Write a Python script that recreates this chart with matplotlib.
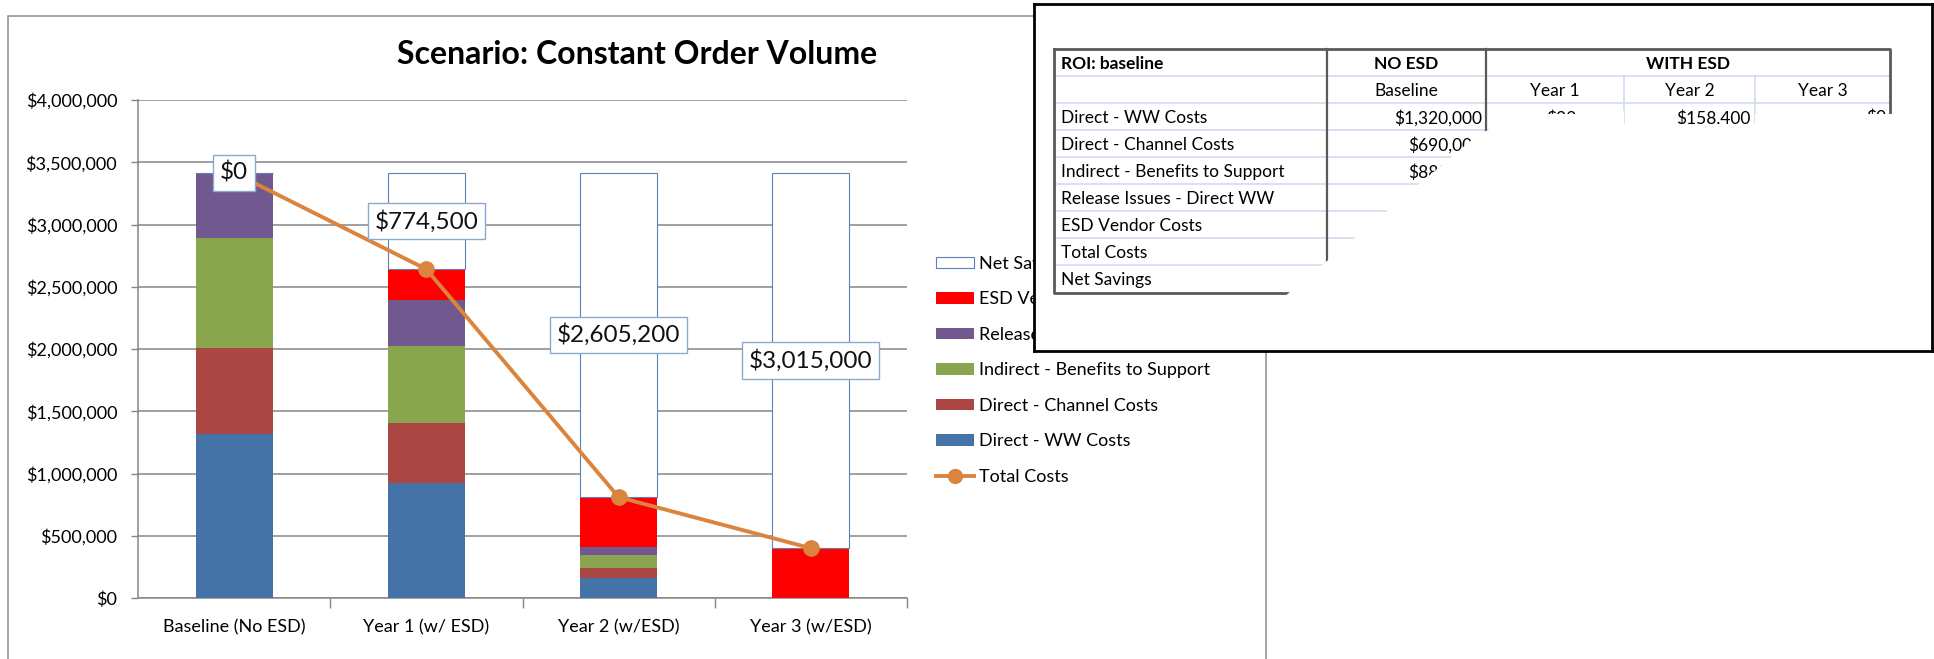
import numpy as np
import matplotlib
matplotlib.use('Agg')
import matplotlib.pyplot as plt
from matplotlib.patches import Rectangle, Patch, Polygon
from matplotlib.lines import Line2D
from matplotlib.ticker import FuncFormatter, MultipleLocator, FixedLocator

plt.rcParams['font.family'] = ['Lato', 'DejaVu Sans']

# ---- data ----
categories = ['Baseline (No ESD)', 'Year 1 (w/ ESD)', 'Year 2 (w/ESD)', 'Year 3 (w/ESD)']
ww_costs = [1320000, 924000, 158400, 0]
channel_costs = [690000, 483000, 82800, 0]
indirect_support = [880000, 616000, 105600, 0]
release_issues = [525000, 367500, 63000, 0]
esd_vendor = [0, 250000, 400000, 400000]
total_costs = [3415000, 2640500, 809800, 400000]
net_savings = [0, 774500, 2605200, 3015000]

series_names = ['Direct - WW Costs', 'Direct - Channel Costs', 'Indirect - Benefits to Support',
                'Release Issues - Direct WW', 'ESD Vendor Costs']
series_values = [ww_costs, channel_costs, indirect_support, release_issues, esd_vendor]
series_colors = ['#4572A7', '#AA4643', '#89A54E', '#71588F', '#FF0000']

table_title = 'ROI: baseline'
table_groups = ['NO ESD', 'WITH ESD']
table_cols = ['Baseline', 'Year 1', 'Year 2', 'Year 3']
table_rows = series_names + ['Total Costs', 'Net Savings']
table_values = series_values + [total_costs, net_savings]

W, H = 1934, 659
def fx(x):
    return x / W
def fy(y):
    return 1 - y / H

fig = plt.figure(figsize=(W / 100, H / 100), dpi=100)

# chart frame
fig.add_artist(Rectangle((fx(8), fy(700)), fx(1266) - fx(8), fy(16) - fy(700),
                         transform=fig.transFigure, fill=False, ec='#8c8c8c', lw=1.1))

ax = fig.add_axes([fx(138), fy(598), (907 - 138) / W, (598 - 100) / H])
x = np.arange(len(categories))
bottom = np.zeros(len(categories))
bar_w = 0.4
for name, vals, col in zip(series_names, series_values, series_colors):
    ax.bar(x, vals, bar_w, bottom=bottom, color=col, label=name, zorder=3)
    bottom += np.array(vals)
ax.bar(x, net_savings, bar_w, bottom=bottom, color='white', ec='#5b82b8', lw=0.8, zorder=3)

ax.plot(x, total_costs, color='#DB843D', lw=2.8, marker='o', ms=11, zorder=5)

for i, ns in enumerate(net_savings):
    ax.text(x[i], bottom[i] + ns / 2, '${:,.0f}'.format(ns), ha='center', va='center',
            fontsize=17.5, color='#111111', zorder=7,
            bbox=dict(boxstyle='square,pad=0.28', fc='white', ec='#8EA9CF', lw=1.0))

ax.set_xlim(-0.5, 3.5)
ax.set_ylim(0, 4000000)
ax.yaxis.set_major_locator(MultipleLocator(500000))
ax.yaxis.set_major_formatter(FuncFormatter(lambda v, p: '${:,.0f}'.format(v)))
ax.grid(axis='y', color='#868686', lw=1.1, zorder=0)
ax.set_axisbelow(True)
ax.set_xticks(x)
ax.set_xticklabels(categories)
ax.xaxis.set_minor_locator(FixedLocator([0.5, 1.5, 2.5, 3.5]))
ax.tick_params(axis='x', which='major', length=0, pad=15, labelsize=13)
ax.tick_params(axis='x', which='minor', length=7, color='#868686', width=1)
ax.tick_params(axis='y', length=5, color='#868686', width=1, pad=10, labelsize=13)
for s in ['top', 'right']:
    ax.spines[s].set_visible(False)
for s in ['left', 'bottom']:
    ax.spines[s].set_color('#868686')
    ax.spines[s].set_linewidth(1.1)

fig.text(fx(637), fy(55), 'Scenario: Constant Order Volume', ha='center', va='center',
         fontsize=23, fontweight='bold')

# legend (reverse stack order, line last)
handles = [Patch(fc='white', ec='#5b82b8', lw=0.8)]
labels = ['Net Savings']
for name, col in list(zip(series_names, series_colors))[::-1]:
    handles.append(Patch(fc=col))
    labels.append(name)
handles.append(Line2D([], [], color='#DB843D', lw=2.8, marker='o', ms=10))
labels.append('Total Costs')
ax.legend(handles, labels, loc='upper left', bbox_to_anchor=(fx(936), fy(256)),
          bbox_transform=fig.transFigure, frameon=False, fontsize=13, handlelength=2.1,
          handleheight=0.6, handletextpad=0.3, labelspacing=1.08, borderpad=0, borderaxespad=0)

# ---- overlay table box ----
ax2 = fig.add_axes([fx(1034), fy(351), (1932 - 1034) / W, (351 - 4) / H], zorder=10)
ax2.set_xlim(1034, 1932)
ax2.set_ylim(351, 4)
ax2.set_xticks([])
ax2.set_yticks([])
for s in ax2.spines.values():
    s.set_color('black')
    s.set_linewidth(2)

col_edges = [1054, 1327, 1486, 1624, 1755, 1890]
row_edges = [49, 76, 103, 130, 157, 184, 211, 238, 265, 293]
light = '#D0DCEC'
dark = '#5a5a5a'
for y in row_edges[1:-1]:
    ax2.plot([col_edges[0], col_edges[-1]], [y, y], color=light, lw=1.2, zorder=2)
for xe in col_edges[3:5]:
    ax2.plot([xe, xe], [row_edges[1], row_edges[-1]], color=light, lw=1.2, zorder=2)
for xe in col_edges[1:3]:
    ax2.plot([xe, xe], [row_edges[0], row_edges[-1]], color=dark, lw=1.6, zorder=3)
ax2.plot([col_edges[0], col_edges[-1], col_edges[-1], col_edges[0], col_edges[0]],
         [row_edges[0], row_edges[0], row_edges[-1], row_edges[-1], row_edges[0]],
         color=dark, lw=2, zorder=3)

tfs = 12.5
def ymid(r):
    return (row_edges[r] + row_edges[r + 1]) / 2 + 1.5

ax2.text(col_edges[0] + 7, ymid(0), table_title, ha='left', va='center', fontsize=tfs, fontweight='bold')
ax2.text((col_edges[1] + col_edges[2]) / 2, ymid(0), table_groups[0], ha='center', va='center',
         fontsize=tfs, fontweight='bold')
ax2.text((col_edges[2] + col_edges[-1]) / 2, ymid(0), table_groups[1], ha='center', va='center',
         fontsize=tfs, fontweight='bold')
for j, c in enumerate(table_cols):
    ax2.text((col_edges[j + 1] + col_edges[j + 2]) / 2, ymid(1), c, ha='center', va='center', fontsize=tfs)
for i, (rname, vals) in enumerate(zip(table_rows, table_values)):
    ax2.text(col_edges[0] + 7, ymid(i + 2), rname, ha='left', va='center', fontsize=tfs)
    for j, v in enumerate(vals):
        ax2.text(col_edges[j + 2] - 4, ymid(i + 2), '${:,.0f}'.format(v), ha='right', va='center',
                 fontsize=tfs)

# the table is only partly drawn: white mask over the unrevealed part
mask = [(1920, 114), (1755, 114), (1755, 124), (1624, 124), (1624, 111), (1580, 111), (1580, 114),
        (1489, 114), (1489, 130), (1480, 133), (1284, 297), (1284, 340), (1920, 340)]
ax2.add_patch(Polygon(mask, closed=True, fc='white', ec='none', zorder=6))

fig.savefig('out.png', dpi=100)
